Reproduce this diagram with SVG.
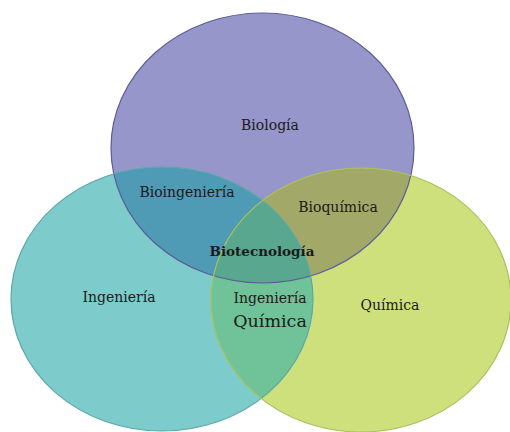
<svg xmlns="http://www.w3.org/2000/svg" width="510" height="432" viewBox="0 0 510 432">
<style>
text{font-family:"DejaVu Serif","Liberation Serif",serif;font-size:14px;fill:#1a1a1a;text-anchor:middle}
.b{font-weight:bold;font-size:13.5px}
.big{font-size:17.5px}
</style>
<defs>
<ellipse id="eP" cx="262.5" cy="148" rx="151.5" ry="135"/>
<ellipse id="eT" cx="162" cy="299" rx="151" ry="132"/>
<ellipse id="eG" cx="361" cy="300" rx="150" ry="132"/>
<clipPath id="cP"><use href="#eP"/></clipPath>
<clipPath id="cT"><use href="#eT"/></clipPath>
<clipPath id="cG"><use href="#eG"/></clipPath>
</defs>
<rect width="510" height="432" fill="#ffffff"/>
<g id="biologia"><use href="#eP" fill="#9696CA"/></g>
<g id="ingenieria"><use href="#eT" fill="#7DCBCB"/></g>
<g id="quimica"><use href="#eG" fill="#CEE07C"/></g>
<g id="overlaps">
<g clip-path="url(#cP)"><use href="#eT" fill="#4F9AB5"/></g>
<g clip-path="url(#cP)"><use href="#eG" fill="#A2A968"/></g>
<g clip-path="url(#cT)"><use href="#eG" fill="#70C298"/></g>
<g clip-path="url(#cP)"><g clip-path="url(#cT)"><use href="#eG" fill="#58A78E"/></g></g>
</g>
<g id="outlines" fill="none" stroke-width="1.2">
<use href="#eP" stroke="#5C5C98"/>
<use href="#eT" stroke="#5AA8AC"/>
<use href="#eG" stroke="#A9C25E"/>
</g>
<g id="labels">
<text x="270" y="130">Biología</text>
<text x="187" y="197">Bioingeniería</text>
<text x="338" y="212">Bioquímica</text>
<text x="262" y="256" class="b">Biotecnología</text>
<text x="119" y="302">Ingeniería</text>
<text x="270" y="303">Ingeniería</text>
<text x="270" y="327" class="big">Química</text>
<text x="390" y="310">Química</text>
</g>
</svg>
